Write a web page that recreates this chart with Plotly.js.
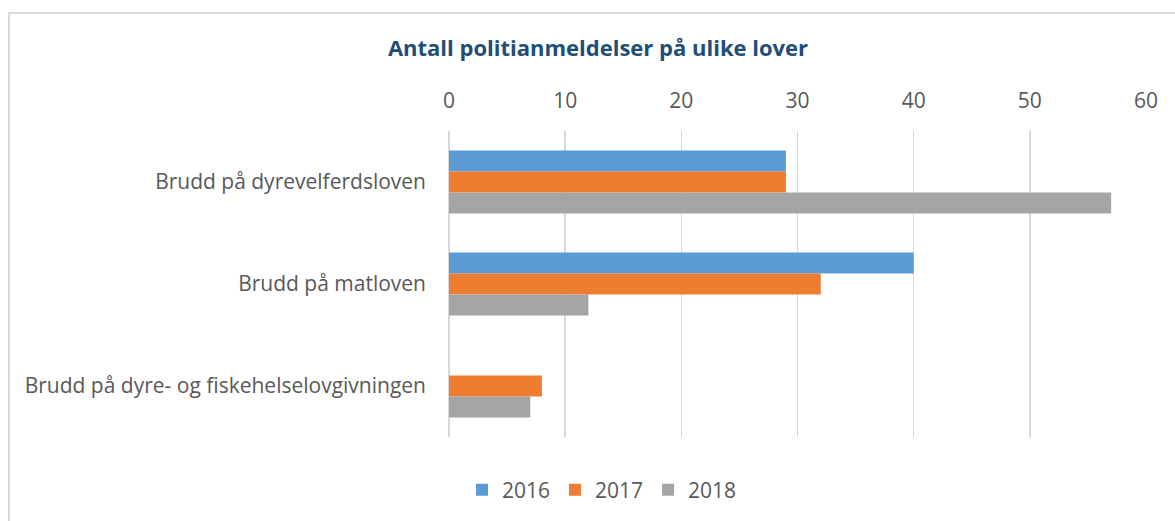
<!DOCTYPE html>
<html>
<head>
<meta charset="utf-8">
<script src="https://cdn.plot.ly/plotly-3.0.1.min.js"></script>
<style>
  body { margin: 0; background: #fff; }
  #frame { position: absolute; left: 8px; top: 12px; width: 1200px; height: 540px; border: 2px solid #d9d9d9; }
  #chart { position: absolute; left: 0; top: 0; width: 1175px; height: 521px; }
</style>
</head>
<body>
<div id="frame"></div>
<div id="chart"></div>
<script>
const categories = [
  'Brudd på dyrevelferdsloven',
  'Brudd på matloven',
  'Brudd på dyre- og fiskehelselovgivningen'
];
const years = ['2016', '2017', '2018'];
const values2016 = [29, 40, null];
const values2017 = [29, 32, 8];
const values2018 = [57, 12, 7];
const xTicks = [0, 10, 20, 30, 40, 50, 60];

const colors = ['#5B9BD5', '#ED7D31', '#A5A5A5'];
const series = [values2016, values2017, values2018];

const traces = series.map((vals, i) => ({
  type: 'bar',
  orientation: 'h',
  name: years[i],
  x: vals,
  y: categories,
  marker: { color: colors[i] },
  hoverinfo: 'x+name'
}));

const layout = {
  width: 1175,
  height: 521,
  paper_bgcolor: 'rgba(0,0,0,0)',
  plot_bgcolor: 'rgba(0,0,0,0)',
  margin: { l: 449, r: 29, t: 131, b: 83 },
  font: { family: 'Open Sans, Liberation Sans, sans-serif', color: '#595959', size: 21 },
  title: {
    text: '<b>Antall politianmeldelser på ulike lover</b>',
    font: { size: 22, color: '#1F4E79' },
    x: 598 / 1175,
    xanchor: 'center',
    y: 1 - 48 / 521,
    yanchor: 'middle'
  },
  barmode: 'group',
  bargap: 0.38,
  bargroupgap: 0,
  xaxis: {
    side: 'top',
    range: [0, 60],
    tickvals: xTicks,
    ticks: 'outside',
    ticklen: 14,
    tickcolor: 'rgba(0,0,0,0)',
    showgrid: true,
    gridcolor: '#d9d9d9',
    gridwidth: 1.5,
    zeroline: true,
    zerolinecolor: '#d9d9d9',
    zerolinewidth: 1.5,
    showline: false,
    tickfont: { size: 21 },
    fixedrange: true
  },
  yaxis: {
    autorange: 'reversed',
    showgrid: false,
    zeroline: false,
    showline: false,
    ticklabelstandoff: 22,
    tickfont: { size: 21 },
    fixedrange: true
  },
  showlegend: true,
  legend: {
    orientation: 'h',
    x: (602 - 449) / 697,
    xanchor: 'center',
    y: -0.17,
    yanchor: 'middle',
    font: { size: 21 },
    itemwidth: 30,
    traceorder: 'normal'
  }
};

Plotly.newPlot('chart', traces, layout, { displayModeBar: false, staticPlot: true });
</script>
</body>
</html>
